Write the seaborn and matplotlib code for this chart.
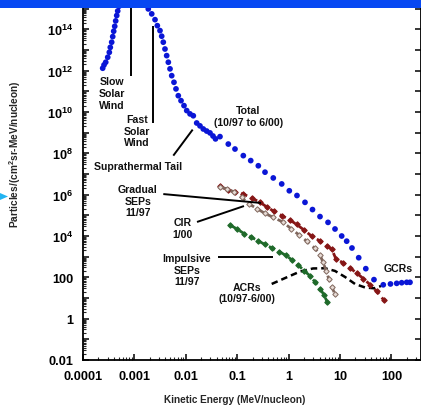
import numpy as np
import pandas as pd
import matplotlib
matplotlib.use("Agg")
import matplotlib.pyplot as plt
import seaborn as sns
from matplotlib.ticker import LogLocator, FuncFormatter, NullFormatter
from matplotlib.patches import Rectangle, Polygon

# ---------------- data (log10 of energy in MeV/nucleon, log10 of flux) ----------------
total_log_e = [-3.617, -3.591, -3.558, -3.519, -3.488, -3.469, -3.442, -3.422, -3.403, -3.383,
               -3.364, -3.344, -3.325, -3.300,
               -2.730, -2.663, -2.599, -2.554, -2.502, -2.469, -2.438, -2.405, -2.372, -2.340,
               -2.307, -2.274, -2.230, -2.191, -2.146, -2.093, -2.035, -1.982, -1.918, -1.854,
               -1.788, -1.724, -1.660, -1.594, -1.529, -1.471, -1.422, -1.335,
               -1.173, -1.043, -0.881, -0.737, -0.589, -0.459, -0.298, -0.134, 0.014, 0.163,
               0.319, 0.465, 0.611, 0.767, 0.903, 1.033, 1.130, 1.233, 1.364, 1.502,
               1.661, 1.842, 1.982, 2.103, 2.200, 2.298, 2.362]
total_log_flux = [12.12, 12.28, 12.41, 12.65, 12.89, 13.13, 13.38, 13.65, 13.91, 14.15,
                  14.41, 14.67, 14.89, 15.12,
                  14.99, 14.75, 14.47, 14.18, 13.94, 13.67, 13.38, 13.05, 12.73, 12.41,
                  12.09, 11.76, 11.44, 11.12, 10.79, 10.55, 10.31, 10.07, 9.91, 9.82,
                  9.47, 9.33, 9.18, 9.08, 8.99, 8.84, 8.70, 8.81,
                  8.45, 8.21, 7.89, 7.65, 7.40, 7.09, 6.81, 6.52, 6.19, 5.96,
                  5.63, 5.28, 4.94, 4.66, 4.34, 4.00, 3.75, 3.42, 2.95, 2.42,
                  1.89, 1.64, 1.68, 1.71, 1.74, 1.76, 1.76]

gradual_log_e = [-1.335, -1.179, -1.043, -0.881, -0.718, -0.556, -0.426, -0.284, -0.134, 0.027,
                 0.158, 0.300, 0.446, 0.611, 0.747, 0.838, 0.922, 1.064, 1.195, 1.325,
                 1.453, 1.584, 1.714, 1.856]
gradual_log_flux = [6.40, 6.23, 6.12, 6.03, 5.84, 5.63, 5.41, 5.19, 4.99, 4.77,
                    4.56, 4.29, 4.00, 3.76, 3.52, 3.37, 2.89, 2.70, 2.45, 2.21,
                    1.94, 1.65, 1.32, 0.89]

cir_log_e = [-1.335, -1.198, -1.062, -0.916, -0.770, -0.615, -0.459, -0.294, -0.109, 0.047,
             0.193, 0.358, 0.514, 0.611, 0.669, 0.728, 0.786, 0.844, 0.903]
cir_log_flux = [6.37, 6.28, 6.13, 5.87, 5.55, 5.33, 5.09, 4.90, 4.67, 4.36,
                4.07, 3.74, 3.40, 3.08, 2.74, 2.33, 1.90, 1.53, 1.17]

impulsive_log_e = [-1.140, -1.004, -0.868, -0.732, -0.595, -0.459, -0.323, -0.187, -0.051, 0.066,
                   0.183, 0.300, 0.416, 0.514, 0.611, 0.689, 0.747]
impulsive_log_flux = [4.53, 4.34, 4.12, 3.95, 3.77, 3.59, 3.42, 3.25, 3.06, 2.84,
                      2.60, 2.33, 2.07, 1.78, 1.46, 1.15, 0.83]

acr_log_e = [-0.329, -0.037, 0.222, 0.475, 0.708, 0.903, 1.097, 1.292, 1.486, 1.661, 1.798]
acr_log_flux = [1.68, 2.00, 2.28, 2.43, 2.44, 2.31, 2.02, 1.68, 1.51, 1.47, 1.58]

x_tick_values = [1e-4, 1e-3, 1e-2, 1e-1, 1, 10, 100]
x_tick_labels = ["0.0001", "0.001", "0.01", "0.1", "1", "10", "100"]


def frame(le, lf):
    return pd.DataFrame({"energy": np.power(10.0, le), "flux": np.power(10.0, lf)})


total = frame(total_log_e, total_log_flux)
gradual = frame(gradual_log_e, gradual_log_flux)
cir = frame(cir_log_e, cir_log_flux)
impulsive = frame(impulsive_log_e, impulsive_log_flux)
acr = frame(acr_log_e, acr_log_flux)

# ---------------- style ----------------
sns.set_style("ticks")
plt.rcParams["font.family"] = ["Liberation Sans", "DejaVu Sans"]
plt.rcParams["mathtext.fontset"] = "custom"
plt.rcParams["mathtext.rm"] = "Liberation Sans:bold"
plt.rcParams["mathtext.bf"] = "Liberation Sans:bold"
plt.rcParams["mathtext.it"] = "Liberation Sans:bold"
plt.rcParams["mathtext.default"] = "rm"

W, H = 421, 406
fig = plt.figure(figsize=(W / 100, H / 100), dpi=100)
fig.patch.set_facecolor("white")
ax = fig.add_axes([83 / W, 45 / H, 1 - 83 / W, 1 - 45 / H])
ax.set_xscale("log")
ax.set_yscale("log")
ax.set_xlim(1e-4, 10 ** 2.576)
ax.set_ylim(1e-2, 10 ** 15.47)

# ---------------- series ----------------
sns.scatterplot(data=total, x="energy", y="flux", ax=ax, color="#0a16d6", s=17,
                edgecolor="none", linewidth=0, zorder=5)
dash = (0, (2.4, 1.6))
sns.lineplot(data=gradual, x="energy", y="flux", ax=ax, color="#861616", sort=False,
             estimator=None, linestyle=dash, linewidth=2.0, marker="D",
             markersize=2.8, markeredgecolor="#861616", zorder=4)
sns.lineplot(data=cir, x="energy", y="flux", ax=ax, color="#7f665c", sort=False,
             estimator=None, linestyle=dash, linewidth=2.0, marker="D",
             markersize=2.8, markerfacecolor="#e6dad4", markeredgecolor="#7f665c",
             markeredgewidth=0.7, zorder=4)
sns.lineplot(data=impulsive, x="energy", y="flux", ax=ax, color="#1f6a2a", sort=False,
             estimator=None, linestyle=dash, linewidth=2.0, marker="D",
             markersize=2.8, markeredgecolor="#1f6a2a", zorder=4)
sns.lineplot(data=acr, x="energy", y="flux", ax=ax, color="black", sort=False,
             estimator=None, linestyle=(0, (2.6, 1.6)), linewidth=1.8, zorder=3)

# ---------------- annotations ----------------
tkw = dict(fontsize=7.6, fontweight="bold", ha="center", va="center", color="#111111",
           linespacing=1.2)


def P(le, lf):
    return 10 ** le, 10 ** lf


def leader(p1, p2):
    x1, y1 = P(*p1)
    x2, y2 = P(*p2)
    ax.plot([x1, x2], [y1, y2], color="black", lw=1.4, solid_capstyle="butt", zorder=6)


ax.text(*P(-3.445, 10.92), "Slow\nSolar\nWind", **tkw)
leader((-3.072, 11.73), (-3.072, 15.6))
ax.text(*P(-2.944, 9.10), "Fast\nSolar\nWind", **tkw)
leader((-2.632, 9.47), (-2.632, 14.18))
ax.text(*P(-2.924, 7.38), "Suprathermal Tail", **tkw)
leader((-2.243, 7.89), (-1.866, 9.15))
ax.text(*P(-0.784, 9.81), "Total\n(10/97 to 6/00)", **tkw)
ax.text(*P(-2.936, 5.70), "Gradual\nSEPs\n11/97", **tkw)
leader((-2.438, 6.03), (-0.537, 5.60))
ax.text(*P(-2.060, 4.39), "CIR\n1/00", **tkw)
leader((-1.782, 4.68), (-0.868, 5.45))
ax.text(*P(-1.977, 2.37), "Impulsive\nSEPs\n11/97", **tkw)
leader((-1.368, 2.97), (-0.298, 2.97))
ax.text(*P(-0.815, 1.27), "ACRs\n(10/97-6/00)", **tkw)
ax.text(*P(2.123, 2.44), "GCRs", **tkw)

# ---------------- axes ----------------
for s in ax.spines.values():
    s.set_linewidth(1.3)
    s.set_color("black")

ax.set_xticks(x_tick_values)
ax.set_xticklabels(x_tick_labels)
ax.xaxis.set_minor_locator(LogLocator(base=10, subs=np.arange(2, 10), numticks=40))
ax.xaxis.set_minor_formatter(NullFormatter())

ax.yaxis.set_major_locator(LogLocator(base=10, numticks=40))


def yfmt(v, pos):
    e = int(round(np.log10(v)))
    if e % 2:
        return ""
    if e == -2:
        return "0.01"
    if e == 0:
        return "1"
    if e == 2:
        return "100"
    return r"$10^{%d}$" % e


ax.yaxis.set_major_formatter(FuncFormatter(yfmt))
ax.yaxis.set_minor_locator(LogLocator(base=10, subs=np.arange(2, 10), numticks=40))
ax.yaxis.set_minor_formatter(NullFormatter())

ax.tick_params(which="major", direction="in", length=4.5, width=1.1, labelsize=9.2,
               pad=7, colors="black")
ax.tick_params(which="minor", direction="in", length=2.5, width=0.8)
ax.tick_params(axis="y", which="major", right=True, left=True)
ax.tick_params(axis="y", which="minor", left=True, right=False)
for lab in ax.get_xticklabels() + ax.get_yticklabels():
    lab.set_fontweight("bold")

ax.set_xlabel("Kinetic Energy (MeV/nucleon)", fontsize=7.2, fontweight="bold")
ax.set_ylabel("Particles/(cm$^2$sr-MeV/nucleon)", fontsize=7.3, fontweight="bold")
ax.xaxis.set_label_coords((235 - 83) / 338, (361 - 400) / 361)
ax.xaxis.label.set_va("center")
ax.yaxis.set_label_coords((15 - 83) / 338, (361 - 154) / 361)
ax.yaxis.label.set_va("center")

# ---------------- decorations (top bar, side marker) ----------------
fig.patches.append(Rectangle((0, 1 - 9 / H), 1, 9 / H, transform=fig.transFigure,
                             facecolor="#0748f2", edgecolor="none", zorder=20))
fig.patches.append(Polygon([(0, 1 - 194 / H), (8 / W, 1 - 197.5 / H), (0, 1 - 201 / H)],
                           closed=True, transform=fig.transFigure,
                           facecolor="#22b4f2", edgecolor="none", zorder=20))

fig.savefig("out.png", dpi=100)
